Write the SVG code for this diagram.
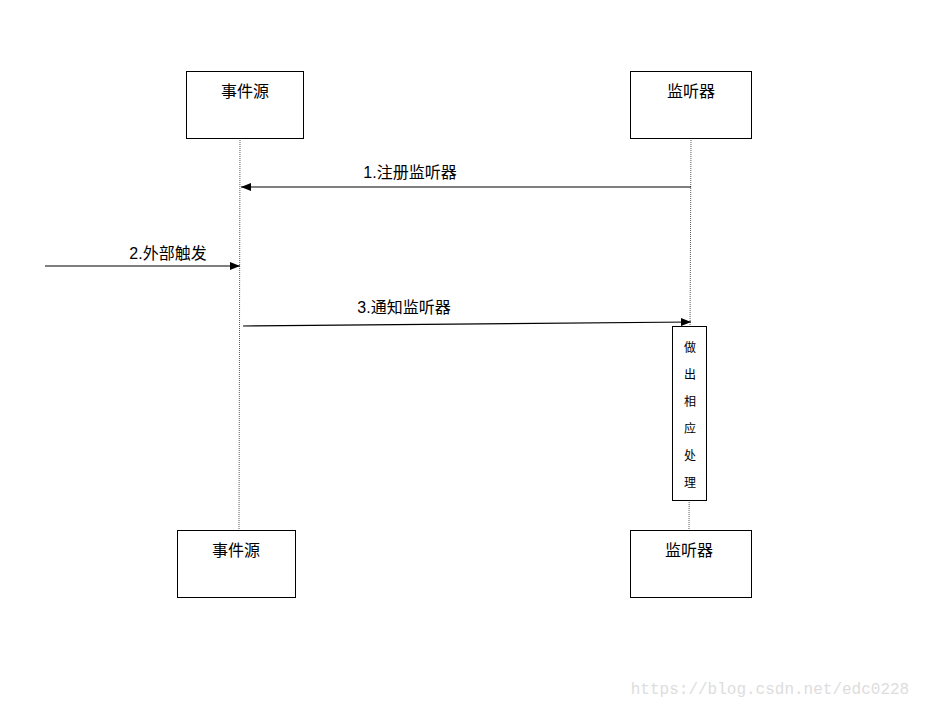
<svg xmlns="http://www.w3.org/2000/svg" width="926" height="708" viewBox="0 0 926 708">
<style>
.box{fill:#fff;stroke:#000;stroke-width:1}
.t{font-family:"Liberation Sans","Noto Sans CJK SC",sans-serif;font-size:16px;fill:#000}
.s{font-family:"Liberation Sans","Noto Sans CJK SC",sans-serif;font-size:12px;fill:#000;text-anchor:middle}
.life{stroke:#555;stroke-width:1;stroke-dasharray:1,1}
.msg{stroke:#000;stroke-width:1.2;fill:none;marker-end:url(#a)}
</style>
<defs><marker id="a" markerWidth="10" markerHeight="8" refX="10" refY="4" orient="auto" markerUnits="userSpaceOnUse"><path d="M0,0L10,4L0,8z" fill="#000"/></marker></defs>
<rect width="926" height="708" fill="#fff"/>
<g id="lifelines">
<line class="life" x1="240" y1="138" x2="239" y2="530"/>
<line class="life" x1="691" y1="138" x2="689" y2="530"/>
</g>
<g id="src-top"><rect class="box" x="186.500" y="71.500" width="117" height="67"/><text class="t" x="245" y="97" text-anchor="middle">事件源</text></g>
<g id="lis-top"><rect class="box" x="630.500" y="71.500" width="121" height="67"/><text class="t" x="691" y="97" text-anchor="middle">监听器</text></g>
<g id="src-bot"><rect class="box" x="177.500" y="530.500" width="118" height="67"/><text class="t" x="236" y="556" text-anchor="middle">事件源</text></g>
<g id="lis-bot"><rect class="box" x="630.500" y="530.500" width="121" height="67"/><text class="t" x="689" y="556" text-anchor="middle">监听器</text></g>
<g id="act"><rect class="box" x="672.500" y="326.500" width="34" height="174"/>
<text class="s" x="690" y="352">做</text><text class="s" x="690" y="379">出</text><text class="s" x="690" y="406">相</text><text class="s" x="690" y="433">应</text><text class="s" x="690" y="460">处</text><text class="s" x="690" y="487">理</text></g>
<g id="connectors">
<line class="msg" x1="691" y1="187" x2="241" y2="187"/>
<line class="msg" x1="45" y1="266" x2="240" y2="266"/>
<line class="msg" x1="243" y1="326" x2="691" y2="322"/>
</g>
<g id="labels">
<text class="t" x="410" y="178" text-anchor="middle">1.注册监听器</text>
<text class="t" x="168" y="259" text-anchor="middle">2.外部触发</text>
<text class="t" x="404" y="313" text-anchor="middle">3.通知监听器</text>
<text x="770" y="694" text-anchor="middle" font-family="Liberation Mono,monospace" font-size="16" fill="#ddd">https://blog.csdn.net/edc0228</text>
</g>
</svg>
